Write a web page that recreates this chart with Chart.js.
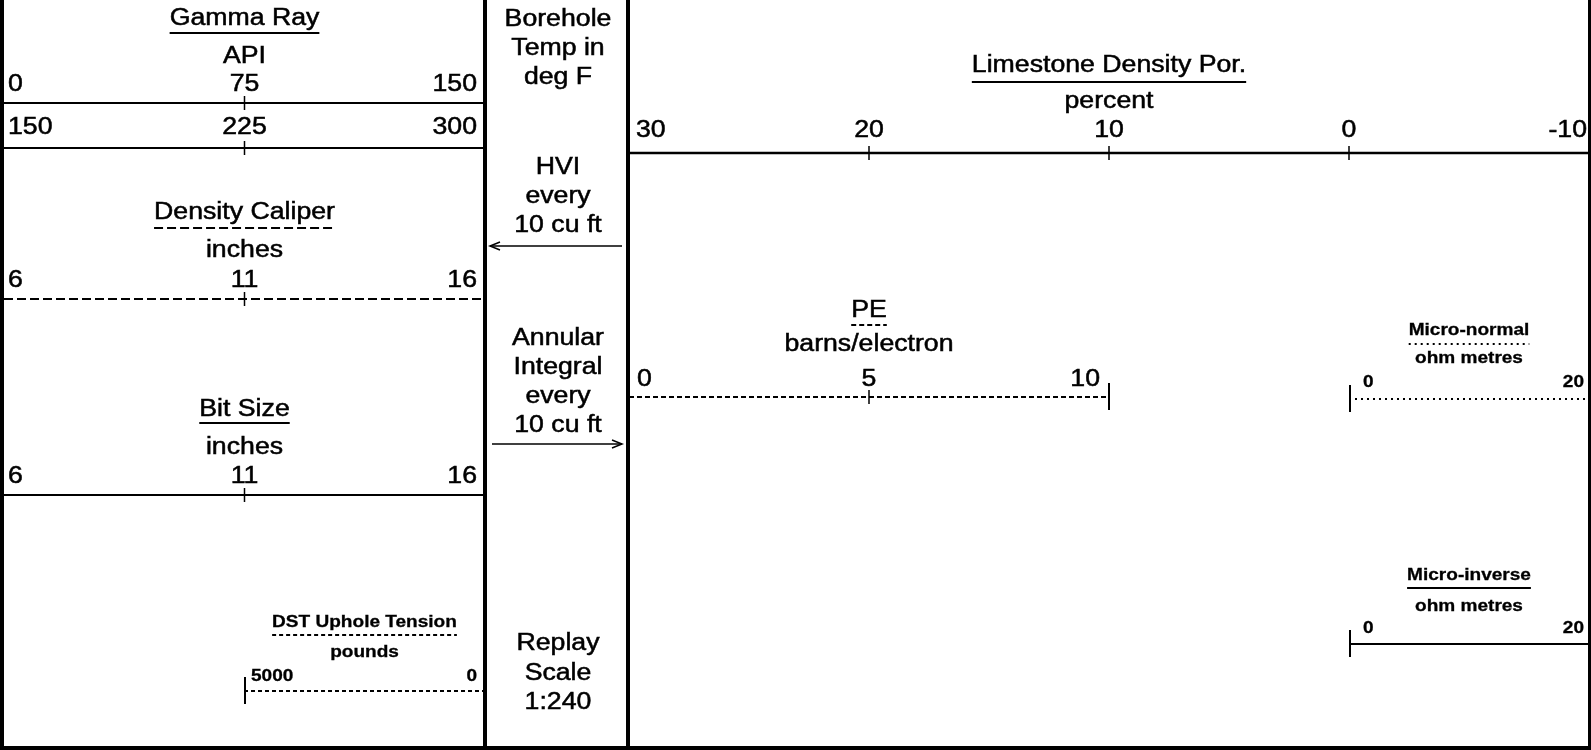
<!DOCTYPE html>
<html>
<head>
<meta charset="utf-8">
<script src="https://cdn.jsdelivr.net/npm/chart.js@4.4.1/dist/chart.umd.min.js"></script>
<style>
  html, body { margin: 0; padding: 0; background: #ffffff; }
  canvas { display: block; }
</style>
</head>
<body>
<canvas id="c" width="1591" height="750"></canvas>
<script>
// ---------------- DATA ----------------
const curveNames = ['Gamma Ray', '', 'Density Caliper', 'Bit Size', 'DST Uphole Tension',
                    'Limestone Density Por.', 'PE', 'Micro-normal', 'Micro-inverse'];
const curveUnits = ['API', '', 'inches', 'inches', 'pounds',
                    'percent', 'barns/electron', 'ohm metres', 'ohm metres'];
const gammaRayTicks = [0, 75, 150];
const gammaRayBackupTicks = [150, 225, 300];
const densityCaliperTicks = [6, 11, 16];
const bitSizeTicks = [6, 11, 16];
const dstTensionTicks = [5000, 0];
const limestonePorTicks = [30, 20, 10, 0, -10];
const peTicks = [0, 5, 10];
const microNormalTicks = [0, 20];
const microInverseTicks = [0, 20];
const depthTrackLabels = [
  ['Borehole', 'Temp in', 'deg F'],
  ['HVI', 'every', '10 cu ft'],
  ['Annular', 'Integral', 'every', '10 cu ft'],
  ['Replay', 'Scale', '1:240']
];

// ---------------- LAYOUT / STYLE ----------------
const W = 1591, H = 750;
const TRACK_L = { l: 4, r: 485 }, TRACK_M = { l: 487, r: 627 }, TRACK_R = { l: 629, r: 1589 };
const DASH = { solid: [], dashed: [9, 4], peDash: [5, 3], dotted: [4, 3], fineDot: [2, 4] };
const REG = { font: '23px "Liberation Sans", Arial, sans-serif', sx: 1.16, stroke: 0.5 };
const BOLD = { font: 'bold 17px "Liberation Sans", Arial, sans-serif', sx: 1.12, stroke: 0.3 };

const headers = [
  { idx: 0, ticks: gammaRayTicks, x0: TRACK_L.l, x1: TRACK_L.r, lineY: 103, labelY: 91, titleY: 25, ulY: 33, unitY: 63, dash: DASH.solid, st: REG, padL: 4, padR: 8 },
  { idx: 1, ticks: gammaRayBackupTicks, x0: TRACK_L.l, x1: TRACK_L.r, lineY: 148, labelY: 134, dash: DASH.solid, st: REG, padL: 4, padR: 8 },
  { idx: 2, ticks: densityCaliperTicks, x0: TRACK_L.l, x1: TRACK_L.r, lineY: 299, labelY: 287, titleY: 219, ulY: 228, unitY: 257, dash: DASH.dashed, st: REG, padL: 4, padR: 8 },
  { idx: 3, ticks: bitSizeTicks, x0: TRACK_L.l, x1: TRACK_L.r, lineY: 495, labelY: 483, titleY: 416, ulY: 423, unitY: 454, dash: DASH.solid, st: REG, padL: 4, padR: 8 },
  { idx: 4, ticks: dstTensionTicks, x0: 244, x1: TRACK_L.r, lineY: 691, labelY: 681, titleY: 627, ulY: 635, unitY: 657, dash: DASH.dotted, st: BOLD, padL: 7, padR: 8, endTick: 'left' },
  { idx: 5, ticks: limestonePorTicks, x0: TRACK_R.l, x1: TRACK_R.r, lineY: 153, labelY: 137, titleY: 72, ulY: 82, unitY: 108, dash: DASH.solid, st: REG, padL: 7, padR: 2, lineW: 2.5 },
  { idx: 6, ticks: peTicks, x0: TRACK_R.l, x1: 1109, lineY: 397, labelY: 386, titleY: 317, ulY: 325, unitY: 351, dash: DASH.peDash, st: REG, padL: 8, padR: 9, endTick: 'right' },
  { idx: 7, ticks: microNormalTicks, x0: 1349, x1: TRACK_R.r, lineY: 399, labelY: 387, titleY: 335, ulY: 344, unitY: 363, dash: DASH.fineDot, st: BOLD, padL: 14, padR: 5, endTick: 'left' },
  { idx: 8, ticks: microInverseTicks, x0: 1349, x1: TRACK_R.r, lineY: 644, labelY: 633, titleY: 580, ulY: 588, unitY: 611, dash: DASH.solid, st: BOLD, padL: 14, padR: 5, endTick: 'left' }
];
const depthTrackBaselines = [[26, 55, 84], [174, 203, 232], [345, 374, 403, 432], [650, 680, 709]];
const arrows = [ { y: 246, x0: 490, x1: 622, dir: 'left' }, { y: 444, x0: 492, x1: 622, dir: 'right' } ];

function valueToX(h, v) {
  const a = h.ticks[0], b = h.ticks[h.ticks.length - 1];
  return h.x0 + (v - a) / (b - a) * (h.x1 - h.x0);
}

// ---------------- DATASETS (lines drawn by Chart.js) ----------------
const datasets = [];
function seg(points, width, dash) {
  datasets.push({ data: points, showLine: true, borderColor: '#000', borderWidth: width,
                  borderDash: dash || [], pointRadius: 0, fill: false, tension: 0,
                  borderCapStyle: 'butt', borderJoinStyle: 'miter' });
}
// frame
seg([{ x: 2, y: 0 }, { x: 2, y: H }], 4);
seg([{ x: 485, y: 0 }, { x: 485, y: H }], 4);
seg([{ x: 628, y: 0 }, { x: 628, y: H }], 4);
seg([{ x: 1589.5, y: 0 }, { x: 1589.5, y: H }], 3);
seg([{ x: 0, y: 748 }, { x: W, y: 748 }], 4);
// scale lines and ticks
headers.forEach(h => {
  const xEnd = h.x1 === TRACK_R.r ? W : h.x1;
  seg([{ x: h.x0, y: h.lineY }, { x: xEnd, y: h.lineY }], h.lineW || 2, h.dash);
  h.ticks.forEach((v, i) => {
    if (i > 0 && i < h.ticks.length - 1) {
      const x = valueToX(h, v);
      seg([{ x: x, y: h.lineY - 7 }, { x: x, y: h.lineY + 7 }], 1.5);
    }
  });
  if (h.endTick) {
    const x = h.endTick === 'left' ? h.x0 + 1 : h.x1;
    seg([{ x: x, y: h.lineY - 14 }, { x: x, y: h.lineY + 13 }], 2);
  }
});
// arrows
arrows.forEach(a => {
  seg([{ x: a.x0, y: a.y }, { x: a.x1, y: a.y }], 1.5);
  const tip = a.dir === 'left' ? a.x0 : a.x1;
  const back = a.dir === 'left' ? tip + 10 : tip - 10;
  seg([{ x: back, y: a.y - 4 }, { x: tip, y: a.y }, { x: back, y: a.y + 4 }], 1.5);
});

// ---------------- TEXT PLUGIN ----------------
const headerText = {
  id: 'headerText',
  afterDatasetsDraw(chart) {
    const ctx = chart.ctx, sx = chart.scales.x, sy = chart.scales.y;
    const px = v => sx.getPixelForValue(v), py = v => sy.getPixelForValue(v);
    function txt(s, x, y, align, st) {
      ctx.save();
      ctx.font = st.font;
      ctx.fillStyle = '#000';
      ctx.strokeStyle = '#000';
      ctx.lineWidth = st.stroke;
      ctx.textBaseline = 'alphabetic';
      ctx.textAlign = align;
      ctx.translate(px(x), py(y));
      ctx.scale(st.sx, 1);
      ctx.fillText(s, 0, 0);
      if (st.stroke) ctx.strokeText(s, 0, 0);
      const w = ctx.measureText(s).width * st.sx;
      ctx.restore();
      return w;
    }
    headers.forEach(h => {
      const cx = (h.x0 + h.x1) / 2;
      const name = curveNames[h.idx], unit = curveUnits[h.idx];
      if (name) {
        const w = txt(name, cx, h.titleY, 'center', h.st);
        ctx.save();
        ctx.strokeStyle = '#000';
        ctx.lineWidth = 2;
        ctx.setLineDash(h.dash);
        ctx.beginPath();
        ctx.moveTo(px(cx - w / 2), py(h.ulY));
        ctx.lineTo(px(cx + w / 2), py(h.ulY));
        ctx.stroke();
        ctx.restore();
      }
      if (unit) txt(unit, cx, h.unitY, 'center', h.st);
      h.ticks.forEach((v, i) => {
        let x = valueToX(h, v), align = 'center';
        if (i === 0) { x = h.x0 + h.padL; align = 'left'; }
        else if (i === h.ticks.length - 1) { x = h.x1 - h.padR; align = 'right'; }
        txt(String(v), x, h.labelY, align, h.st);
      });
    });
    const mcx = (TRACK_M.l + TRACK_M.r) / 2 + 1;
    depthTrackLabels.forEach((group, g) => {
      group.forEach((s, k) => txt(s, mcx, depthTrackBaselines[g][k], 'center', REG));
    });
  }
};

new Chart(document.getElementById('c'), {
  type: 'scatter',
  data: { datasets: datasets },
  options: {
    responsive: false,
    animation: false,
    devicePixelRatio: 1,
    layout: { padding: 0 },
    plugins: { legend: { display: false }, tooltip: { enabled: false } },
    scales: {
      x: { type: 'linear', min: 0, max: W, display: false },
      y: { type: 'linear', min: 0, max: H, reverse: true, display: false }
    }
  },
  plugins: [headerText]
});
</script>
</body>
</html>
